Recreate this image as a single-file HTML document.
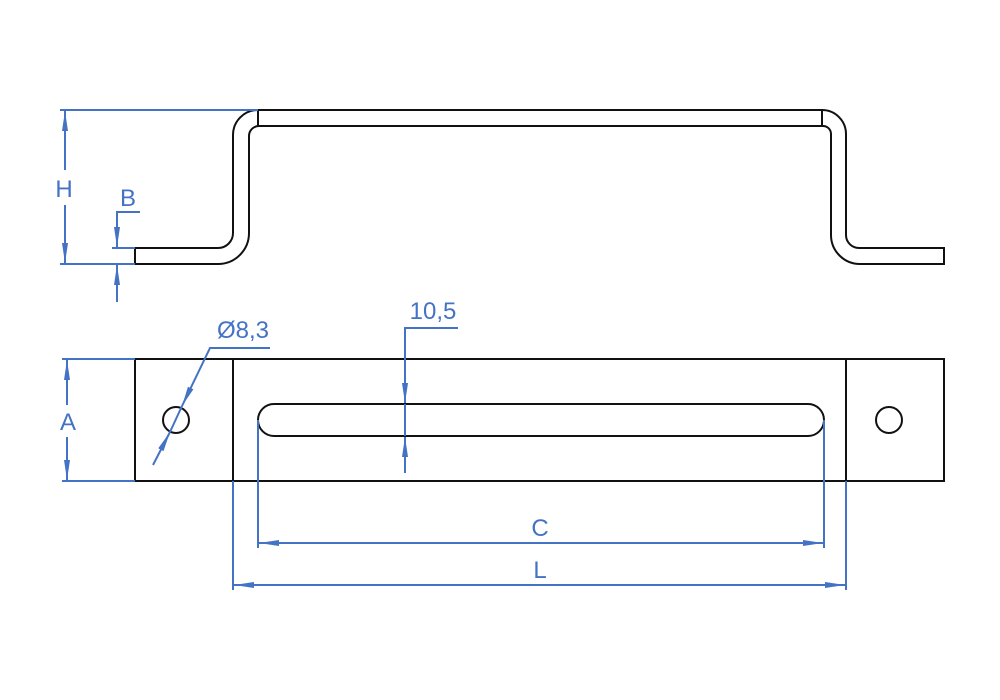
<!DOCTYPE html>
<html><head><meta charset="utf-8"><style>
html,body{margin:0;padding:0;background:#fff;width:1000px;height:700px;overflow:hidden}
svg text{font-family:"Liberation Sans",sans-serif;fill:#4472c4;font-size:24px}
</style></head><body>
<svg width="1000" height="700" viewBox="0 0 1000 700" xmlns="http://www.w3.org/2000/svg">
<defs>
<marker id="ar" viewBox="0 0 20 8" refX="20" refY="4" markerWidth="20" markerHeight="8" markerUnits="userSpaceOnUse" orient="auto"><path d="M0,1 L20,4 L0,7 z" fill="#4472c4"/></marker>
</defs>
<g fill="none" stroke="#111" stroke-width="2">
<!-- side view -->
<path d="M135,248 L218,248 A15,15 0 0 0 233,233 L233,135 A25,25 0 0 1 258,110 L822,110 A24,24 0 0 1 846,134 L846,235 A13,13 0 0 0 859,248 L944,248 L944,264 L860,264 A29,29 0 0 1 831,235 L831,134 A8,8 0 0 0 823,126 L259,126 A10,10 0 0 0 249,136 L249,233 A31,31 0 0 1 218,264 L135,264 Z"/>
<line x1="258" y1="110" x2="258" y2="126"/>
<line x1="822" y1="110" x2="822" y2="126"/>
<!-- plan view -->
<rect x="135" y="359" width="809" height="122"/>
<line x1="233" y1="359" x2="233" y2="481"/>
<line x1="846" y1="359" x2="846" y2="481"/>
<circle cx="176" cy="420" r="13"/>
<circle cx="889" cy="420" r="13"/>
<rect x="258" y="404" width="566" height="32" rx="16" ry="16"/>
</g>
<g fill="none" stroke="#4472c4" stroke-width="2">
<!-- H -->
<line x1="60" y1="110" x2="258" y2="110"/>
<line x1="60" y1="264" x2="135" y2="264"/>
<line x1="65" y1="170" x2="65" y2="111" marker-end="url(#ar)"/>
<line x1="65" y1="205" x2="65" y2="263" marker-end="url(#ar)"/>
<!-- B -->
<line x1="112" y1="248" x2="135" y2="248"/>
<polyline points="140,212 117,212 117,247" marker-end="url(#ar)"/>
<line x1="117" y1="302" x2="117" y2="265" marker-end="url(#ar)"/>
<!-- A -->
<line x1="62" y1="359" x2="135" y2="359"/>
<line x1="62" y1="481" x2="135" y2="481"/>
<line x1="67" y1="405" x2="67" y2="360" marker-end="url(#ar)"/>
<line x1="67" y1="437" x2="67" y2="480" marker-end="url(#ar)"/>
<!-- dia -->
<polyline points="270,348 210,348 182,406" marker-end="url(#ar)"/>
<line x1="153" y1="465" x2="170" y2="432" marker-end="url(#ar)"/>
<line x1="182" y1="406" x2="170" y2="432"/>
<!-- 10,5 -->
<polyline points="458,328 405,328 405,403" marker-end="url(#ar)"/>
<line x1="405" y1="473" x2="405" y2="437" marker-end="url(#ar)"/>
<line x1="405" y1="404" x2="405" y2="436"/>
<!-- C / L -->
<line x1="258" y1="420" x2="258" y2="548"/>
<line x1="824" y1="420" x2="824" y2="548"/>
<line x1="540" y1="543" x2="259" y2="543" marker-end="url(#ar)"/>
<line x1="540" y1="543" x2="823" y2="543" marker-end="url(#ar)"/>
<line x1="233" y1="481" x2="233" y2="590"/>
<line x1="846" y1="481" x2="846" y2="590"/>
<line x1="540" y1="585" x2="234" y2="585" marker-end="url(#ar)"/>
<line x1="540" y1="585" x2="845" y2="585" marker-end="url(#ar)"/>
</g>
<text x="64" y="197" text-anchor="middle">H</text>
<text x="128" y="206" text-anchor="middle">B</text>
<text x="68" y="430" text-anchor="middle">A</text>
<text x="243" y="338" text-anchor="middle">Ø8,3</text>
<text x="433" y="319" text-anchor="middle">10,5</text>
<text x="540" y="536" text-anchor="middle">C</text>
<text x="540" y="578" text-anchor="middle">L</text>
</svg>
</body></html>
